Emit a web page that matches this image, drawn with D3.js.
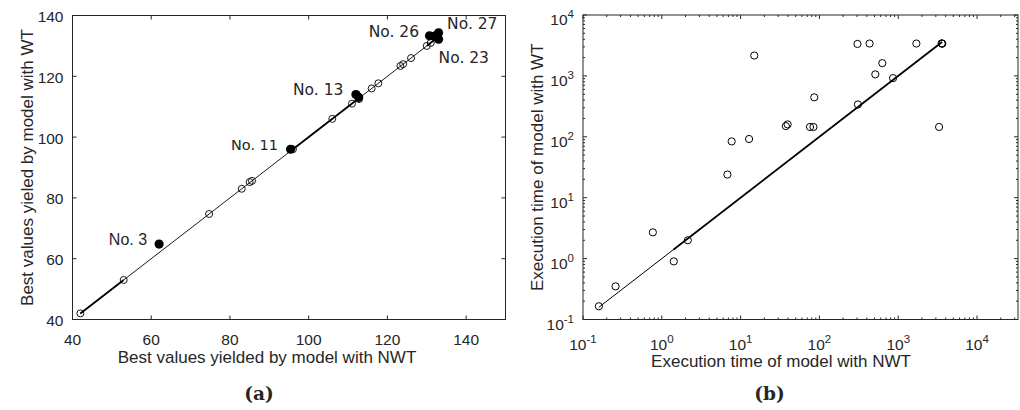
<!DOCTYPE html>
<html>
<head>
<meta charset="utf-8">
<script src="https://cdn.jsdelivr.net/npm/d3@7"></script>
<style>
  body { margin: 0; background: #fff; }
  text { fill: #262626; }
</style>
</head>
<body>
<div id="chart-area"></div>
<script>
// ---- panel (a): best values, NWT vs WT ----
const bestOpenNWT = [42, 53, 74.7, 83, 85, 85.6, 96, 106, 111, 112.8, 116, 117.7, 123.3, 124, 126, 130, 131]
const bestOpenWT = [42, 53, 74.7, 83, 85.2, 85.6, 96, 106, 111, 112.5, 116, 117.7, 123.4, 124, 126, 130, 131]
const bestFilledNWT = [62, 95.4, 112, 112.7, 130.7, 132, 133, 133]
const bestFilledWT = [64.8, 96, 114, 113.1, 133.3, 133.2, 134.3, 132.2]
const bestDiag = [42, 133]
const bestDiagThick = [[42, 53], [95.5, 113], [130, 133]]
const bestTicks = [40, 60, 80, 100, 120, 140]
const bestNames = ["No. 3", "No. 11", "No. 13", "No. 26", "No. 27", "No. 23"]
const bestNameIdx = [0, 1, 2, 4, 6, 7] // which filled point each name belongs to

// ---- panel (b): execution time, NWT vs WT (log-log) ----
const timeNWT = [0.159, 0.259, 0.77, 1.42, 2.14, 6.8, 7.7, 12.8, 14.9, 37.5, 39.5, 76, 84, 86,
  304, 308, 433, 512, 628, 860, 1700, 3300, 3600, 3560, 3620]
const timeWT = [0.165, 0.35, 2.7, 0.9, 2.0, 24, 84, 92, 2160, 150, 160, 145, 145, 445,
  3350, 340, 3400, 1060, 1620, 920, 3400, 145, 3400, 3420, 3380]
const timeDiag = [0.159, 1.4, 3600]
const timeTickExp = [-1, 0, 1, 2, 3, 4]

const svg = d3.select("#chart-area")
  .append("svg")
  .attr("width", 1020)
  .attr("height", 410)

const AXIS_COLOR = "#262626"
const SANS = "'Liberation Sans', Arial, sans-serif"

// scales
const xA = d3.scaleLinear().domain([40, 150]).range([72.5, 505.5])
const yA = d3.scaleLinear().domain([40, 140]).range([319.5, 15.5])
const xB = d3.scaleLog().domain([0.1, Math.pow(10, 4.52)]).range([583, 1018])
const yB = d3.scaleLog().domain([0.1, 1e4]).range([319.5, 15])

// draws the box with inward ticks on all four sides
function frame(g, x, y, xt, yt, len) {
  const [x0, x1] = x.range()
  const [y0, y1] = y.range()
  g.append("rect")
    .attr("x", x0).attr("y", y1)
    .attr("width", x1 - x0).attr("height", y0 - y1)
    .attr("fill", "none").attr("stroke", AXIS_COLOR).attr("stroke-width", 1)
  xt.forEach(t => {
    const l = t.minor ? len / 2 : len
    const px = x(t.v)
    g.append("line").attr("x1", px).attr("x2", px).attr("y1", y0).attr("y2", y0 - l)
      .attr("stroke", AXIS_COLOR)
    g.append("line").attr("x1", px).attr("x2", px).attr("y1", y1).attr("y2", y1 + l)
      .attr("stroke", AXIS_COLOR)
  })
  yt.forEach(t => {
    const l = t.minor ? len / 2 : len
    const py = y(t.v)
    g.append("line").attr("x1", x0).attr("x2", x0 + l).attr("y1", py).attr("y2", py)
      .attr("stroke", AXIS_COLOR)
    g.append("line").attr("x1", x1).attr("x2", x1 - l).attr("y1", py).attr("y2", py)
      .attr("stroke", AXIS_COLOR)
  })
}

// ---------------- panel (a) ----------------
const gA = svg.append("g")

frame(gA, xA, yA,
  bestTicks.map(v => ({ v })),
  bestTicks.map(v => ({ v })), 4)

gA.selectAll(".xtick").data(bestTicks).enter().append("text")
  .attr("x", d => xA(d)).attr("y", 339)
  .attr("text-anchor", "middle").attr("dominant-baseline", "central")
  .attr("font-family", SANS).attr("font-size", 15.5)
  .text(d => d)

gA.selectAll(".ytick").data(bestTicks).enter().append("text")
  .attr("x", 63.5).attr("y", d => yA(d) + 1)
  .attr("text-anchor", "end").attr("dominant-baseline", "central")
  .attr("font-family", SANS).attr("font-size", 15.5)
  .text(d => d)

// diagonal reference line
gA.append("line")
  .attr("x1", xA(bestDiag[0])).attr("y1", yA(bestDiag[0]))
  .attr("x2", xA(bestDiag[1])).attr("y2", yA(bestDiag[1]))
  .attr("stroke", "#000").attr("stroke-width", 0.9)
bestDiagThick.forEach(s => {
  gA.append("line")
    .attr("x1", xA(s[0])).attr("y1", yA(s[0]))
    .attr("x2", xA(s[1])).attr("y2", yA(s[1]))
    .attr("stroke", "#000").attr("stroke-width", 1.8)
})

gA.selectAll(".open").data(bestOpenNWT).enter().append("circle")
  .attr("cx", d => xA(d)).attr("cy", (d, i) => yA(bestOpenWT[i]))
  .attr("r", 3.5).attr("fill", "none").attr("stroke", "#000").attr("stroke-width", 0.9)

gA.selectAll(".filled").data(bestFilledNWT).enter().append("circle")
  .attr("cx", d => xA(d)).attr("cy", (d, i) => yA(bestFilledWT[i]))
  .attr("r", 4.6).attr("fill", "#000")

// label offsets from the point, in px
const nameOffsets = [
  { dx: -12, dy: -5, anchor: "end", font: SANS, size: 16 },
  { dx: -12.5, dy: -4, anchor: "end", font: "'DejaVu Sans'", size: 14.5 },
  { dx: -12.5, dy: -5, anchor: "end", font: "'DejaVu Sans'", size: 15.5 },
  { dx: -10.5, dy: -3.5, anchor: "end", font: "'DejaVu Sans'", size: 15.5 },
  { dx: 8.5, dy: -8.5, anchor: "start", font: "'DejaVu Sans'", size: 15.5 },
  { dx: 0, dy: 19, anchor: "start", font: "'DejaVu Sans'", size: 15.5 }
]
bestNames.forEach((name, k) => {
  const i = bestNameIdx[k]
  const o = nameOffsets[k]
  gA.append("text")
    .attr("x", xA(bestFilledNWT[i]) + o.dx)
    .attr("y", yA(bestFilledWT[i]) + o.dy)
    .attr("text-anchor", o.anchor).attr("dominant-baseline", "central")
    .attr("font-family", o.font).attr("font-size", o.size)
    .text(name)
})

gA.append("text")
  .attr("x", 267).attr("y", 357)
  .attr("text-anchor", "middle").attr("dominant-baseline", "central")
  .attr("font-family", SANS).attr("font-size", 17)
  .text("Best values yielded by model with NWT")

gA.append("text")
  .attr("transform", `translate(27, ${(yA.range()[0] + yA.range()[1]) / 2}) rotate(-90)`)
  .attr("text-anchor", "middle").attr("dominant-baseline", "central")
  .attr("font-family", SANS).attr("font-size", 17)
  .text("Best values yieled by model with WT")

gA.append("text")
  .attr("x", 259).attr("y", 393)
  .attr("text-anchor", "middle").attr("dominant-baseline", "central")
  .attr("font-family", "'DejaVu Serif', serif").attr("font-weight", "bold").attr("font-size", 18.5)
  .text("(a)")

// ---------------- panel (b) ----------------
const gB = svg.append("g")

const logTicks = (scale) => {
  const [lo, hi] = scale.domain()
  const out = []
  for (let e = -1; e <= 4; e++) {
    for (let m = 1; m <= 9; m++) {
      const v = m * Math.pow(10, e)
      if (v >= lo && v <= hi) out.push({ v, minor: m !== 1 })
    }
  }
  return out
}

frame(gB, xB, yB, logTicks(xB), logTicks(yB), 4)

const expLabel = (sel) => {
  sel.append("tspan").text("10")
  sel.append("tspan").attr("dy", -7).attr("font-size", 11.5).text(d => d)
}

gB.selectAll(".xtick").data(timeTickExp).enter().append("text")
  .attr("x", d => xB(Math.pow(10, d))).attr("y", 349.5)
  .attr("text-anchor", "middle")
  .attr("font-family", SANS).attr("font-size", 15.5)
  .call(expLabel)

gB.selectAll(".ytick").data(timeTickExp).enter().append("text")
  .attr("x", 574).attr("y", d => yB(Math.pow(10, d)) + 10)
  .attr("text-anchor", "end")
  .attr("font-family", SANS).attr("font-size", 15.5)
  .call(expLabel)

// y = x reference, thicker beyond the middle point
gB.append("line")
  .attr("x1", xB(timeDiag[0])).attr("y1", yB(timeDiag[0]))
  .attr("x2", xB(timeDiag[1])).attr("y2", yB(timeDiag[1]))
  .attr("stroke", "#000").attr("stroke-width", 1)
gB.append("line")
  .attr("x1", xB(timeDiag[1])).attr("y1", yB(timeDiag[1]))
  .attr("x2", xB(timeDiag[2])).attr("y2", yB(timeDiag[2]))
  .attr("stroke", "#000").attr("stroke-width", 1.8)

gB.selectAll(".pt").data(timeNWT).enter().append("circle")
  .attr("cx", d => xB(d)).attr("cy", (d, i) => yB(timeWT[i]))
  .attr("r", 3.6).attr("fill", "none").attr("stroke", "#000").attr("stroke-width", 1)

gB.append("text")
  .attr("x", 781).attr("y", 361)
  .attr("text-anchor", "middle").attr("dominant-baseline", "central")
  .attr("font-family", SANS).attr("font-size", 17)
  .text("Execution time of model with NWT")

gB.append("text")
  .attr("transform", `translate(537, ${(yB.range()[0] + yB.range()[1]) / 2}) rotate(-90)`)
  .attr("text-anchor", "middle").attr("dominant-baseline", "central")
  .attr("font-family", SANS).attr("font-size", 17)
  .text("Execution time of model with WT")

gB.append("text")
  .attr("x", 769.5).attr("y", 393)
  .attr("text-anchor", "middle").attr("dominant-baseline", "central")
  .attr("font-family", "'DejaVu Serif', serif").attr("font-weight", "bold").attr("font-size", 18.5)
  .text("(b)")
</script>
</body>
</html>
